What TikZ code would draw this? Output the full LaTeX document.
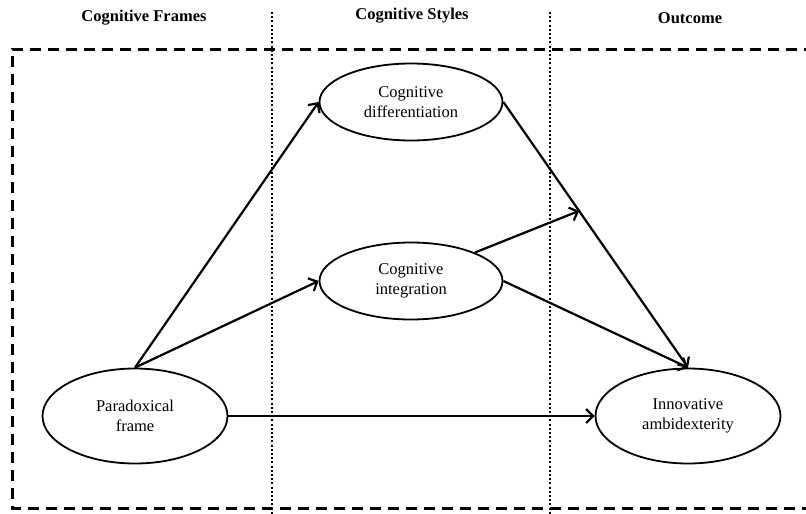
\documentclass[tikz,border=0pt]{standalone}
\usepackage{fontspec}
\setmainfont{Liberation Serif}
\usetikzlibrary{positioning,shapes.geometric,arrows.meta,calc}

\begin{document}
\begin{tikzpicture}[x=1pt, y=-1pt]
    % Define styles
    \tikzset{construct/.style={draw, ellipse, line width=1.8pt, inner sep=0pt, align=center, font=\fontsize{16.5}{20}\selectfont}}
    \tikzset{header/.style={font=\fontsize{16.5}{19}\selectfont\bfseries}}
    \tikzset{path/.style={line width=2.2pt, -{Straight Barb[length=7pt, width=14pt, line width=2.2pt]}}}
    \tikzset{boundary/.style={line width=3pt, dash pattern=on 11pt off 7pt}}
    \tikzset{divider/.style={line width=2pt, dash pattern=on 2pt off 2.2pt}}

    \useasboundingbox (0,0) rectangle (806,514);

    % Draw dashed frame and column dividers
    \draw[boundary] (815,49) -- (12,49) -- (12,508) -- (815,508);
    \draw[divider] (272,12) -- (272,514);
    \draw[divider] (550,12) -- (550,514);

    % Draw column headers
    \node[header] (frames) at (144,18) {Cognitive Frames};
    \node[header] (styles) at (412,16) {Cognitive Styles};
    \node[header] (outcome) at (690,18) {Outcome};

    % Draw constructs
    \node[construct, minimum width=183pt, minimum height=77pt] (diff) at (411,102) {Cognitive\\differentiation};
    \node[construct, minimum width=183pt, minimum height=77pt] (integ) at (411,281) {Cognitive\\integration};
    \node[construct, minimum width=185pt, minimum height=95pt] (paradox) at (135,416) {Paradoxical\\frame};
    \node[construct, minimum width=185pt, minimum height=95pt] (innov) at (688,416) {Innovative\\ambidexterity};

    % Connect constructs
    \draw[path] (paradox.north) -- (diff.west);
    \draw[path] (paradox.north) -- (integ.west);
    \draw[path] (paradox.east) -- (innov.west);
    \draw[path] (diff.east) -- (innov.north);
    \draw[path] (integ.east) -- (innov.north);

    % Moderating path
    \coordinate (mod) at ($(diff.east)!0.41!(innov.north)$);
    \draw[path] (integ.24) -- (mod);

\end{tikzpicture}
\end{document}
